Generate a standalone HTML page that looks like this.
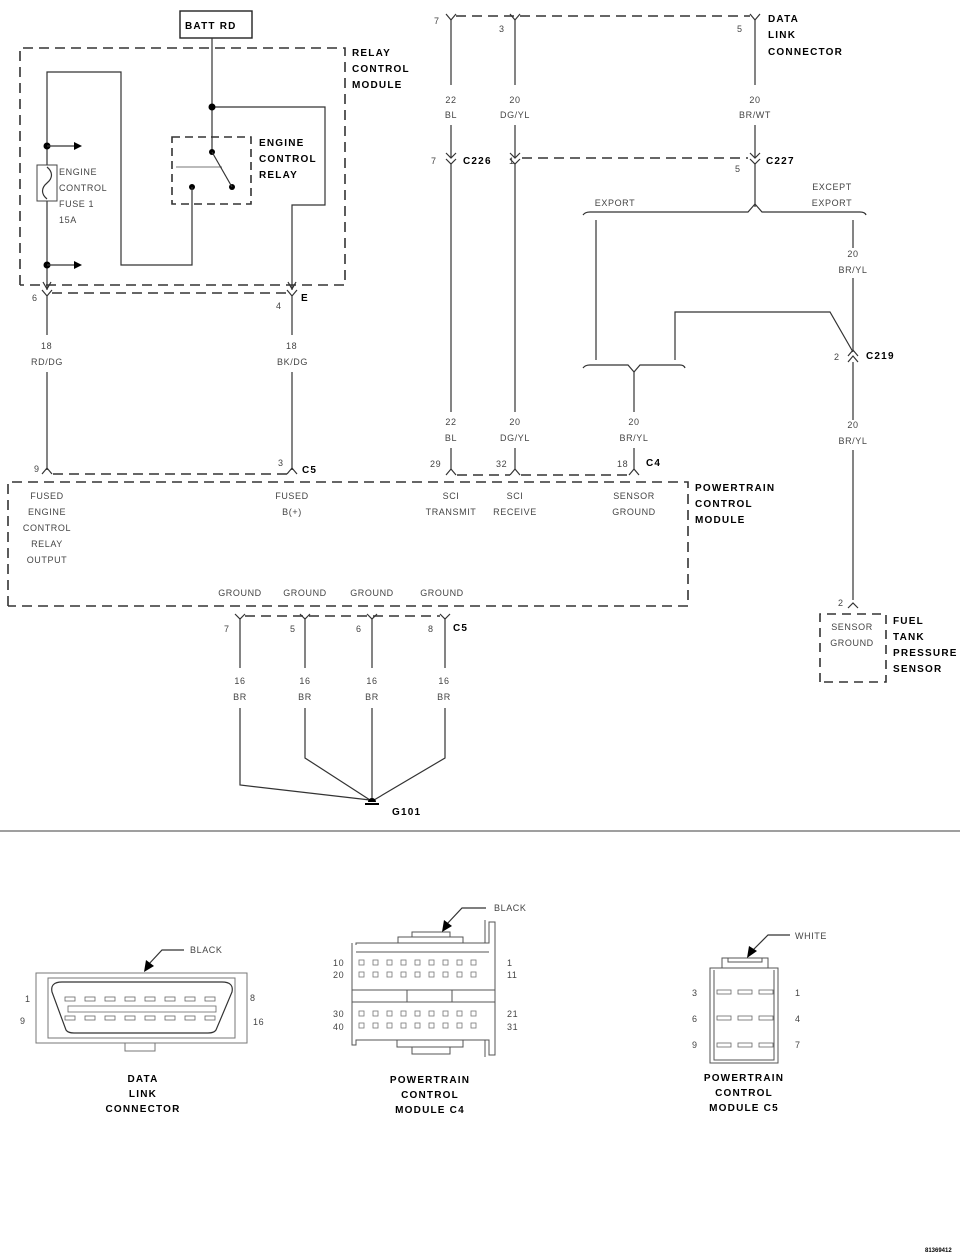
<!DOCTYPE html>
<html><head><meta charset="utf-8"><style>
html,body{margin:0;padding:0;background:#fff}
svg{display:block}
.t{font-family:"Liberation Sans Narrow","Liberation Sans",sans-serif;font-size:9px;fill:#444;letter-spacing:0.6px}
.b{font-family:"Liberation Sans",sans-serif;font-size:10px;font-weight:bold;fill:#000;letter-spacing:1.2px}
.w{stroke:#333;stroke-width:1.2;fill:none}
.d{stroke:#333;stroke-width:1.6;fill:none;stroke-dasharray:10 6}
.g{stroke:#777;stroke-width:1;fill:none}
</style></head><body>
<svg width="960" height="1257" viewBox="0 0 960 1257" xmlns="http://www.w3.org/2000/svg">
<rect x="180" y="11" width="72" height="27" fill="none" stroke="#222" stroke-width="1.4"/>
<text class="b" x="185" y="29">BATT RD</text>
<path class="d" d="M20 285 V48 H345 V285 H20"/>
<text class="b" x="352" y="56">RELAY</text>
<text class="b" x="352" y="72">CONTROL</text>
<text class="b" x="352" y="88">MODULE</text>
<path class="w" d="M212 38 V152"/>
<path class="w" d="M212 107 H325 V205 H292 V290"/>
<circle cx="212" cy="107" r="3.5" fill="#000"/>
<rect x="172" y="137" width="79" height="67" class="d" style="stroke-dasharray:8 5"/>
<path class="g" d="M176 167 H222"/>
<circle cx="212" cy="152" r="3" fill="#000"/>
<circle cx="232" cy="187" r="3" fill="#000"/>
<path class="w" d="M212 152 L232 187"/>
<circle cx="192" cy="187" r="3" fill="#000"/>
<path class="w" d="M192 187 V265 H121 V72 H47 V290"/>
<text class="b" x="259" y="146">ENGINE</text>
<text class="b" x="259" y="162">CONTROL</text>
<text class="b" x="259" y="178">RELAY</text>
<circle cx="47" cy="146" r="3.5" fill="#000"/>
<circle cx="47" cy="265" r="3.5" fill="#000"/>
<path class="w" d="M47 146 H76 M47 265 H76" stroke-width="1.6"/>
<path d="M82 146 L74 142 L74 150Z M82 265 L74 261 L74 269Z" fill="#000"/>
<rect x="37" y="165" width="20" height="36" fill="#fff" stroke="#444"/>
<path class="w" d="M47 167 C53 172,53 178,47 183 C41 188,41 194,47 199"/>
<text class="t" x="59" y="175">ENGINE</text>
<text class="t" x="59" y="191">CONTROL</text>
<text class="t" x="59" y="207">FUSE 1</text>
<text class="t" x="59" y="223">15A</text>
<path class="w" d="M43 282 L47 289 L51 282 M288 282 L292 289 L296 282"/>
<path class="d" d="M52 293 H286"/>
<path class="w" d="M42 290 L47 296 L52 290 M47 296 V335 M287 290 L292 296 L297 290 M292 296 V335"/>
<text class="t" x="32" y="301">6</text>
<text class="t" x="276" y="309">4</text>
<text class="b" x="301" y="301">E</text>
<text class="t" x="41" y="349">18</text>
<text class="t" x="31" y="365">RD/DG</text>
<text class="t" x="286" y="349">18</text>
<text class="t" x="277" y="365">BK/DG</text>
<path class="w" d="M47 372 V470 M292 372 V470"/>
<path class="w" d="M42 474 L47 468 L52 474 M287 474 L292 468 L297 474"/>
<path class="d" d="M53 474 H287"/>
<text class="t" x="34" y="472">9</text>
<text class="t" x="278" y="466">3</text>
<text class="b" x="302" y="473">C5</text>
<path class="d" d="M8 606 V482 H688 V606 H8"/>
<text class="b" x="695" y="491">POWERTRAIN</text>
<text class="b" x="695" y="507">CONTROL</text>
<text class="b" x="695" y="523">MODULE</text>
<g class="t" text-anchor="middle">
<text x="47" y="499">FUSED</text><text x="47" y="515">ENGINE</text><text x="47" y="531">CONTROL</text><text x="47" y="547">RELAY</text><text x="47" y="563">OUTPUT</text>
<text x="292" y="499">FUSED</text><text x="292" y="515">B(+)</text>
<text x="451" y="499">SCI</text><text x="451" y="515">TRANSMIT</text>
<text x="515" y="499">SCI</text><text x="515" y="515">RECEIVE</text>
<text x="634" y="499">SENSOR</text><text x="634" y="515">GROUND</text>
<text x="240" y="596">GROUND</text><text x="305" y="596">GROUND</text><text x="372" y="596">GROUND</text><text x="442" y="596">GROUND</text>
<text x="240" y="684">16</text><text x="240" y="700">BR</text>
<text x="305" y="684">16</text><text x="305" y="700">BR</text>
<text x="372" y="684">16</text><text x="372" y="700">BR</text>
<text x="444" y="684">16</text><text x="444" y="700">BR</text>
</g>
<path class="d" d="M245 616 H440"/>
<path class="w" d="M235 614 L240 619 L245 614 M300 614 L305 619 L310 614 M367 614 L372 619 L377 614 M440 614 L445 619 L450 614"/>
<path class="w" d="M240 619 V668 M305 619 V668 M372 619 V668 M445 619 V668"/>
<path class="w" d="M240 708 V785 L370 800 M305 708 V758 L370 800 M372 708 V800 M445 708 V758 L374 800"/>
<text class="t" x="224" y="632">7</text><text x="290" y="632" class="t">5</text><text x="356" y="632" class="t">6</text><text x="428" y="632" class="t">8</text>
<text class="b" x="453" y="631">C5</text>
<path d="M368 802 a4 4 0 0 1 8 0Z" fill="#000"/>
<rect x="365" y="803" width="14" height="2" fill="#000"/>
<text class="b" x="392" y="815">G101</text>
<path class="d" d="M456 16 H750"/>
<path class="w" d="M446 14 L451 20 L456 14 M510 14 L515 20 L520 14 M750 14 L755 20 L760 14"/>
<path class="w" d="M451 20 V85 M515 20 V85 M755 20 V85"/>
<text class="t" x="434" y="24">7</text><text class="t" x="499" y="32">3</text><text class="t" x="737" y="32">5</text>
<text class="b" x="768" y="22">DATA</text><text class="b" x="768" y="38">LINK</text><text class="b" x="768" y="55">CONNECTOR</text>
<g class="t" text-anchor="middle">
<text x="451" y="103">22</text><text x="451" y="118">BL</text>
<text x="515" y="103">20</text><text x="515" y="118">DG/YL</text>
<text x="755" y="103">20</text><text x="755" y="118">BR/WT</text>
<text x="634" y="425">20</text><text x="634" y="441">BR/YL</text>
<text x="451" y="425">22</text><text x="451" y="441">BL</text>
<text x="515" y="425">20</text><text x="515" y="441">DG/YL</text>
<text x="853" y="257">20</text><text x="853" y="273">BR/YL</text>
<text x="853" y="428">20</text><text x="853" y="444">BR/YL</text>
<text x="852" y="630">SENSOR</text><text x="852" y="646">GROUND</text>
<text x="615" y="206">EXPORT</text>
<text x="832" y="190">EXCEPT</text><text x="832" y="206">EXPORT</text>
</g>
<path class="w" d="M451 125 V157 M515 125 V157 M755 125 V157"/>
<path class="w" d="M446 153 L451 158 L456 153 M446 159 L451 164 L456 159 M510 153 L515 158 L520 153 M510 159 L515 164 L520 159 M750 153 L755 158 L760 153 M750 159 L755 164 L760 159"/>
<path class="d" d="M522 158 H748"/>
<text class="t" x="431" y="164">7</text><text class="b" x="463" y="164">C226</text>
<text class="t" x="509" y="164">1</text>
<text class="t" x="735" y="172">5</text><text class="b" x="766" y="164">C227</text>
<path class="w" d="M451 164 V412 M515 164 V412 M755 164 V207"/>
<path class="w" d="M583 215 Q585 212 590 212 H748 L755 204 L762 212 H860 Q865 212 866 215"/>
<path class="w" d="M596 220 V360 M853 220 V248 M853 278 V350"/>
<path class="w" d="M675 360 V312 H830 L853 352"/>
<path class="w" d="M583 368 Q585 365 590 365 H628 L634 372 L640 365 H680 Q684 365 685 368"/>
<path class="w" d="M634 372 V412"/>
<path class="w" d="M848 356 L853 350 L858 356 M848 362 L853 356 L858 362"/>
<text class="t" x="834" y="360">2</text><text class="b" x="866" y="359">C219</text>
<path class="w" d="M853 362 V420 M853 450 V600"/>
<path class="w" d="M451 448 V470 M515 448 V470 M634 448 V470"/>
<path class="w" d="M446 475 L451 469 L456 475 M510 475 L515 469 L520 475 M629 475 L634 469 L639 475"/>
<path class="d" d="M457 475 H510 M521 475 H629"/>
<text class="t" x="430" y="467">29</text><text class="t" x="496" y="467">32</text><text class="t" x="617" y="467">18</text>
<text class="b" x="646" y="466">C4</text>
<path class="w" d="M848 608 L853 603 L858 608"/>
<text class="t" x="838" y="606">2</text>
<path class="d" d="M820 682 V614 H886 V682 H820" style="stroke-dasharray:9 6"/>
<text class="b" x="893" y="624">FUEL</text><text class="b" x="893" y="640">TANK</text><text class="b" x="893" y="656">PRESSURE</text><text class="b" x="893" y="672">SENSOR</text>
<path d="M0 831 H960" stroke="#666" stroke-width="1.2"/>
<rect x="36" y="973" width="211" height="70" class="g" stroke="#555"/>
<rect x="48" y="978" width="187" height="60" class="g" stroke="#555"/>
<path d="M125 1043 V1051 H155 V1043" class="g" stroke="#555"/>
<path d="M62 982 H222 Q234 982 232 992 L216 1030 Q214 1033 208 1033 H74 Q68 1033 66 1030 L52 992 Q50 982 62 982Z" fill="none" stroke="#333" stroke-width="1.2"/>
<g fill="none" stroke="#666" stroke-width="0.8">
<rect x="65" y="997" width="10" height="4"/><rect x="85" y="997" width="10" height="4"/><rect x="105" y="997" width="10" height="4"/><rect x="125" y="997" width="10" height="4"/><rect x="145" y="997" width="10" height="4"/><rect x="165" y="997" width="10" height="4"/><rect x="185" y="997" width="10" height="4"/><rect x="205" y="997" width="10" height="4"/>
<rect x="65" y="1016" width="10" height="4"/><rect x="85" y="1016" width="10" height="4"/><rect x="105" y="1016" width="10" height="4"/><rect x="125" y="1016" width="10" height="4"/><rect x="145" y="1016" width="10" height="4"/><rect x="165" y="1016" width="10" height="4"/><rect x="185" y="1016" width="10" height="4"/><rect x="205" y="1016" width="10" height="4"/>
<rect x="68" y="1006" width="148" height="6"/>
</g>
<text class="t" x="25" y="1002">1</text><text class="t" x="20" y="1024">9</text><text class="t" x="250" y="1001">8</text><text class="t" x="253" y="1025">16</text>
<path class="w" d="M148 965 L162 950 H184"/><path d="M144 972 L146 960 L154 966Z" fill="#000"/>
<text class="t" x="190" y="953">BLACK</text>
<g class="b" text-anchor="middle"><text x="143" y="1082">DATA</text><text x="143" y="1097">LINK</text><text x="143" y="1112">CONNECTOR</text>
<text x="430" y="1083">POWERTRAIN</text><text x="430" y="1098">CONTROL</text><text x="430" y="1113">MODULE C4</text>
<text x="744" y="1081">POWERTRAIN</text><text x="744" y="1096">CONTROL</text><text x="744" y="1111">MODULE C5</text></g>
<g fill="none" stroke="#555" stroke-width="1">
<path d="M352 943 V1045 H356 V1040 H489 V1055 H495 V922 H489 V943 H356 V945"/>
<path d="M356 952 H489 M356 1040 H489"/>
<path d="M398 943 V937 H463 V943 M412 937 V932 H450 V937"/>
<path d="M397 1040 V1047 H463 V1040 M412 1047 V1054 H450 V1047"/>
<path d="M352 990 H495 M352 1002 H495 M407 990 V1002 M452 990 V1002 M485 920 V943 M485 1040 V1057"/>
</g>
<g fill="none" stroke="#777" stroke-width="0.8" id="r">
<rect x="359" y="960" width="5" height="5"/><rect x="373" y="960" width="5" height="5"/><rect x="387" y="960" width="5" height="5"/><rect x="401" y="960" width="5" height="5"/><rect x="415" y="960" width="5" height="5"/><rect x="429" y="960" width="5" height="5"/><rect x="443" y="960" width="5" height="5"/><rect x="457" y="960" width="5" height="5"/><rect x="471" y="960" width="5" height="5"/>
</g>
<use href="#r" x="0" y="12"/><use href="#r" x="0" y="51"/><use href="#r" x="0" y="63"/>
<text class="t" x="333" y="966">10</text><text class="t" x="333" y="978">20</text><text class="t" x="333" y="1017">30</text><text class="t" x="333" y="1030">40</text>
<text class="t" x="507" y="966">1</text><text class="t" x="507" y="978">11</text><text class="t" x="507" y="1017">21</text><text class="t" x="507" y="1030">31</text>
<path class="w" d="M446 925 L462 908 H486"/><path d="M442 932 L444 920 L452 926Z" fill="#000"/>
<text class="t" x="494" y="911">BLACK</text>
<g fill="none" stroke="#555" stroke-width="1">
<rect x="710" y="968" width="68" height="95"/>
<path d="M714 970 V1060 H774 V970"/>
<path d="M722 968 V958 H768 V968 M728 958 V962 H762 V958"/>
</g>
<g fill="none" stroke="#666" stroke-width="0.8">
<rect x="717" y="990" width="14" height="4"/><rect x="738" y="990" width="14" height="4"/><rect x="759" y="990" width="14" height="4"/>
<rect x="717" y="1016" width="14" height="4"/><rect x="738" y="1016" width="14" height="4"/><rect x="759" y="1016" width="14" height="4"/>
<rect x="717" y="1043" width="14" height="4"/><rect x="738" y="1043" width="14" height="4"/><rect x="759" y="1043" width="14" height="4"/>
</g>
<text class="t" x="692" y="996">3</text><text class="t" x="692" y="1022">6</text><text class="t" x="692" y="1048">9</text>
<text class="t" x="795" y="996">1</text><text class="t" x="795" y="1022">4</text><text class="t" x="795" y="1048">7</text>
<path class="w" d="M752 951 L768 935 H790"/><path d="M747 958 L749 946 L757 951Z" fill="#000"/>
<text class="t" x="795" y="939">WHITE</text>
<text x="925" y="1252" style="font-family:'Liberation Sans',sans-serif;font-size:6px;font-weight:bold">81369412</text>
</svg>
</body></html>
